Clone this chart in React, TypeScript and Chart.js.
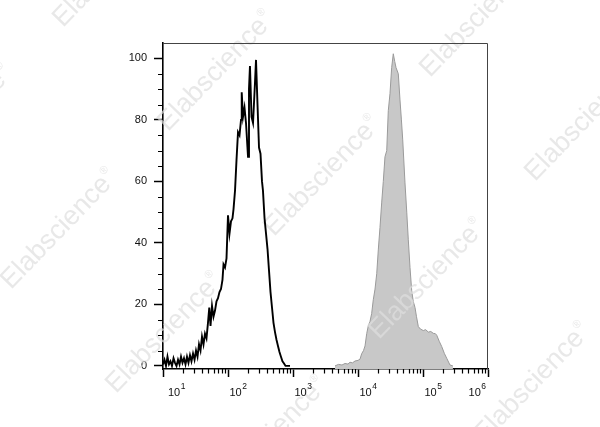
import React, { useEffect, useRef } from "react";
import { Chart, registerables } from "chart.js";

Chart.register(...registerables);

// ---- data (x in decades: 1 => 10^1, 6 => 10^6) ----
const xDecades = [1, 2, 3, 4, 5, 6];
const xSuperscripts = ["1", "2", "3", "4", "5", "6"];
const yTicks = [0, 20, 40, 60, 80, 100];

const blackX = [
  1.0, 1.023, 1.046, 1.069, 1.092, 1.115, 1.138, 1.162, 1.185, 1.208,
  1.231, 1.254, 1.277, 1.3, 1.323, 1.346, 1.369, 1.392, 1.415, 1.438,
  1.462, 1.485, 1.508, 1.531, 1.554, 1.577, 1.6, 1.623, 1.646, 1.669,
  1.692, 1.712, 1.731, 1.754, 1.777, 1.8, 1.823, 1.846, 1.869, 1.892,
  1.915, 1.931, 1.954, 1.977, 2.0, 2.023, 2.046, 2.069, 2.085, 2.108,
  2.131, 2.154, 2.177, 2.2, 2.211, 2.231, 2.254, 2.277, 2.308, 2.323,
  2.338, 2.362, 2.385, 2.415, 2.431, 2.454, 2.477, 2.5, 2.523, 2.538,
  2.562, 2.585, 2.608, 2.631, 2.654, 2.677, 2.7, 2.723, 2.746, 2.769,
  2.792, 2.815, 2.838, 2.862, 2.885, 2.908, 2.954,
];
const blackY = [
  0.5, 2, 0, 3, 0.5, 1.5, 0, 2.5, 1, 0,
  2, 0.5, 3, 1, 2.5, 0.5, 3, 1, 3.5, 1.5,
  4, 2, 5, 3, 7, 5, 9.5, 7, 10.5, 9,
  14, 19, 13, 19.5, 16, 18, 21, 22, 24, 25,
  28, 33, 32, 35, 49, 43, 47, 48, 51, 57,
  67, 76, 75, 80, 89, 81, 84, 79, 68, 90,
  97.5, 81, 79, 92, 99.5, 85, 71, 69, 60, 57,
  48, 43, 38, 31, 24, 19, 14, 11, 8.5, 6.5,
  4.5, 3, 1.5, 0.8, 0, 0, 0,
];

const grayX = [
  3.646, 3.7, 3.754, 3.8, 3.846, 3.877, 3.915, 3.954, 4.0, 4.031,
  4.057, 4.085, 4.108, 4.134, 4.158, 4.185, 4.21, 4.235, 4.262, 4.288,
  4.313, 4.338, 4.364, 4.389, 4.415, 4.442, 4.466, 4.492, 4.518, 4.543,
  4.565, 4.585, 4.62, 4.646, 4.668, 4.688, 4.723, 4.75, 4.774, 4.8,
  4.826, 4.85, 4.877, 4.9, 4.928, 4.96, 5.005, 5.04, 5.082, 5.12,
  5.158, 5.19, 5.211, 5.25, 5.288, 5.33, 5.365, 5.415, 5.46,
];
const grayY = [
  0, 0.5, 0.3, 0.8, 0.6, 1.2, 1, 1.6, 1.8, 2.2,
  4, 5, 6.5, 10.5, 13, 14.5, 17, 21.5, 25, 30,
  38, 45, 53, 60, 68, 70, 83, 88.5, 97, 101.5,
  99, 97, 95, 86.5, 80, 73.5, 59.5, 50, 41, 32,
  24.5, 21, 19, 16, 12.8, 12, 11.5, 11.8, 11, 11.2,
  10.6, 10.5, 10, 8, 6.3, 4, 2.5, 0.3, 0,
];

const watermarkText = "Elabscience";
const watermarkAnchors: [number, number][] = [
  [63, 28], [-94, 186], [168, 132], [430, 78], [11, 290], [274, 237],
  [535, 182], [116, 394], [379, 340], [221, 498], [484, 444],
];

const FONT = '"Liberation Sans", Arial, Helvetica, sans-serif';

function drawWatermarks(ctx: CanvasRenderingContext2D) {
  ctx.save();
  ctx.fillStyle = "rgba(222,222,222,0.7)";
  ctx.textBaseline = "alphabetic";
  ctx.textAlign = "left";
  for (const [x, y] of watermarkAnchors) {
    ctx.save();
    ctx.translate(x, y);
    ctx.rotate((-46 * Math.PI) / 180);
    ctx.font = `27px ${FONT}`;
    ctx.fillText(watermarkText, 0, 0);
    const w = ctx.measureText(watermarkText).width;
    ctx.font = `11px ${FONT}`;
    ctx.fillText("®", w + 1, -13);
    ctx.restore();
  }
  ctx.restore();
}

const histPlugin = {
  id: "histDecor",
  afterDatasetDraw(chart: any, args: any) {
    if (args.index === 1) drawWatermarks(chart.ctx);
  },
  afterDraw(chart: any) {
    const ctx: CanvasRenderingContext2D = chart.ctx;
    const { left, right, top, bottom } = chart.chartArea;
    const xs = chart.scales.x;
    const ys = chart.scales.y;
    ctx.save();
    // top + right frame
    ctx.strokeStyle = "#444";
    ctx.lineWidth = 1;
    ctx.beginPath();
    ctx.moveTo(left, top + 0.5);
    ctx.lineTo(right - 0.5, top + 0.5);
    ctx.lineTo(right - 0.5, bottom);
    ctx.stroke();
    // minor ticks
    ctx.strokeStyle = "#000";
    ctx.lineWidth = 1.2;
    ctx.beginPath();
    for (let d = xDecades[0]; d < xDecades[xDecades.length - 1]; d++) {
      for (let k = 2; k <= 9; k++) {
        const px = Math.round(xs.getPixelForValue(d + Math.log10(k))) + 0.5;
        ctx.moveTo(px, bottom);
        ctx.lineTo(px, bottom + 4.5);
      }
    }
    for (let v = 5; v < 105; v += 5) {
      if (yTicks.includes(v)) continue;
      const py = Math.round(ys.getPixelForValue(v)) + 0.5;
      ctx.moveTo(left, py);
      ctx.lineTo(left - 5, py);
    }
    ctx.stroke();
    // x labels 10^n
    ctx.fillStyle = "#111";
    ctx.textBaseline = "alphabetic";
    ctx.textAlign = "left";
    xDecades.forEach((d, i) => {
      const px = xs.getPixelForValue(d);
      ctx.font = `11px ${FONT}`;
      const w1 = ctx.measureText("10").width;
      ctx.font = `8.5px ${FONT}`;
      const w2 = ctx.measureText(xSuperscripts[i]).width;
      let x0: number;
      if (i === 0) x0 = px + 5;
      else if (i === xDecades.length - 1) x0 = px - 2 - (w1 + 0.5 + w2);
      else x0 = px + 1.5;
      ctx.font = `11px ${FONT}`;
      ctx.fillText("10", x0, 396);
      ctx.font = `8.5px ${FONT}`;
      ctx.fillText(xSuperscripts[i], x0 + w1 + 0.5, 389);
    });
    ctx.restore();
  },
};

export default function App() {
  const canvasRef = useRef<HTMLCanvasElement | null>(null);

  useEffect(() => {
    if (!canvasRef.current) return;
    const blackData = blackX.map((x, i) => ({ x, y: blackY[i] }));
    const grayData = grayX.map((x, i) => ({ x, y: grayY[i] }));
    const chart = new Chart(canvasRef.current, {
      type: "line",
      data: {
        datasets: [
          {
            label: "Control",
            data: blackData,
            borderColor: "#000",
            borderWidth: 1.9,
            fill: false,
            pointRadius: 0,
            tension: 0,
          },
          {
            label: "Stained",
            data: grayData,
            borderColor: "#9a9a9a",
            backgroundColor: "#c8c8c8",
            borderWidth: 1,
            fill: "start",
            pointRadius: 0,
            tension: 0,
          },
        ],
      },
      options: {
        animation: false,
        responsive: true,
        maintainAspectRatio: false,
        layout: { padding: { top: 43, right: 112, left: 0, bottom: 0 } },
        plugins: { legend: { display: false }, tooltip: { enabled: false } },
        scales: {
          x: {
            type: "linear",
            min: 1,
            max: 6,
            afterBuildTicks: (s: any) => {
              s.ticks = xDecades.map((v) => ({ value: v }));
            },
            afterFit: (s: any) => {
              s.height = 58;
            },
            grid: {
              drawOnChartArea: false,
              drawTicks: true,
              tickLength: 8,
              tickWidth: 1.5,
              tickColor: "#000",
            },
            border: { display: true, color: "#000", width: 1.6 },
            ticks: { display: false, autoSkip: false },
          },
          y: {
            type: "linear",
            min: -1,
            max: 105,
            afterBuildTicks: (s: any) => {
              s.ticks = yTicks.map((v) => ({ value: v }));
            },
            afterFit: (s: any) => {
              s.width = 163;
            },
            grid: {
              drawOnChartArea: false,
              drawTicks: true,
              tickLength: 9,
              tickWidth: 1.5,
              tickColor: "#000",
            },
            border: { display: true, color: "#000", width: 1.6 },
            ticks: {
              autoSkip: false,
              padding: 7,
              color: "#111",
              font: { family: FONT, size: 11 },
            },
          },
        },
      },
      plugins: [histPlugin],
    } as any);
    return () => chart.destroy();
  }, []);

  return (
    <div
      style={{
        position: "absolute",
        left: 0,
        top: 0,
        width: 600,
        height: 427,
        background: "#fff",
      }}
    >
      <canvas ref={canvasRef} />
    </div>
  );
}
